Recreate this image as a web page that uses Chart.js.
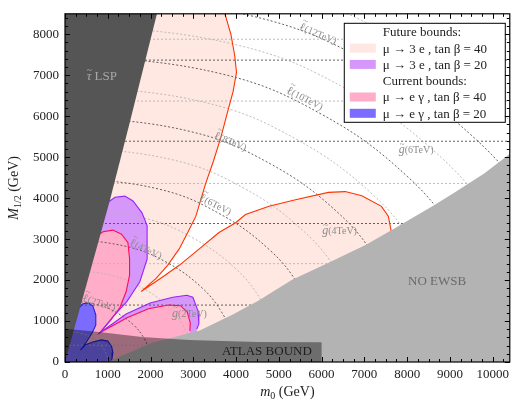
<!DOCTYPE html>
<html>
<head>
<meta charset="utf-8">
<script src="https://cdn.jsdelivr.net/npm/chart.js@4.4.1/dist/chart.umd.min.js"></script>
<style>
  html, body { margin: 0; padding: 0; background: #fff; }
  #wrap { width: 514px; height: 401px; }
</style>
</head>
<body>
<div id="wrap"><canvas id="mssm" width="514" height="401"></canvas></div>
<script>
// axis ranges (GeV) and tick labels
var m0Max = 10400;
var m12Max = 8500;
var m0Ticks = [0, 1000, 2000, 3000, 4000, 5000, 6000, 7000, 8000, 9000, 10000];
var m12Ticks = [0, 1000, 2000, 3000, 4000, 5000, 6000, 7000, 8000];

// stau LSP region
var lspM0  = [0, 1050, 1520, 2150, 0];
var lspM12 = [0, 3950, 5870, 8500, 8500];

// no EWSB region
var ewsbM0  = [1000, 2000, 3150, 3900, 4500, 5300, 6200, 7050, 7650, 8600, 9100, 9800, 10400, 10400];
var ewsbM12 = [0, 460, 770, 1150, 1480, 2000, 2440, 2870, 3230, 3810, 4130, 4600, 5080, 0];

// ATLAS bound
var atlasM0  = [0, 0, 800, 1800, 2900, 4500, 6000, 6000];
var atlasM12 = [0, 810, 730, 610, 540, 490, 480, 0];

// future mu -> 3e, tan beta = 40 (upper branch down to the tip, then lower branch)
var fut40M0  = [3740, 3880, 3970, 4010, 3930, 3800, 3650, 3470, 3290, 3060, 2870, 2670, 2400, 2130, 1780,
                2290, 2670, 3140, 3600, 3990, 4220, 4770, 5390, 6160, 6550, 6940, 7400, 7560, 7620, 7640];
var fut40M12 = [8500, 8000, 7470, 7070, 6600, 6100, 5500, 4900, 4360, 3560, 3160, 2760, 2360, 2040, 1720,
                2080, 2360, 2760, 3160, 3400, 3600, 3800, 3960, 4140, 4160, 4060, 3800, 3560, 3240, 3000];

// future mu -> 3e, tan beta = 20
var fut20M0  = [980, 1170, 1400, 1590, 1800, 1920, 1920, 1750, 1450, 1120, 820, 1120, 1430, 1990, 2520, 2850, 2990, 3110, 3130, 3080];
var fut20M12 = [3880, 4020, 4050, 3930, 3640, 3330, 2510, 1960, 1480, 1100, 720, 940, 1170, 1440, 1580, 1630, 1580, 1250, 930, 800];

// current mu -> e gamma, tan beta = 40
var cur40M0  = [750, 890, 1120, 1320, 1470, 1510, 1510, 1430, 1280, 1050, 820, 1100, 1450, 1950, 2420, 2700, 2860, 2930, 2920];
var cur40M12 = [3090, 3180, 3220, 3120, 2920, 2520, 2120, 1720, 1320, 1000, 720, 880, 1080, 1300, 1390, 1375, 1220, 950, 760];

// current mu -> e gamma, tan beta = 20
var cur20M0  = [300, 420, 550, 650, 720, 720, 630, 520, 400, 360, 480, 650, 850, 1000, 1090, 1120, 1100, 1070];
var cur20M12 = [1300, 1420, 1440, 1370, 1150, 900, 700, 520, 340, 290, 420, 490, 540, 510, 380, 230, 80, 0];

// slepton mass contours (TeV) and points along them
var slepTeV = [1, 2, 3, 4, 5, 6, 7, 8, 9, 10, 11, 12, 13];
var slepM0 = [
  [0, 368, 600, 800, 917, 980, 1000],
  [0, 735, 1200, 1600, 1833, 1960, 2000],
  [0, 1103, 1800, 2400, 2750, 2939, 3000],
  [0, 1470, 2400, 3200, 3666, 3919, 4000],
  [0, 1838, 3000, 4000, 4583, 4899, 5000],
  [0, 2206, 3600, 4800, 5499, 5879, 6000],
  [0, 2573, 4200, 5600, 6416, 6859, 7000],
  [0, 2941, 4800, 6400, 7332, 7838, 8000],
  [0, 3308, 5400, 7200, 8249, 8818, 9000],
  [0, 3676, 6000, 8000, 9165, 9798, 10000],
  [0, 4044, 6600, 8800, 10082, 10778, 11000],
  [0, 4411, 7200, 9600, 10998, 11758, 12000],
  [0, 4779, 7800, 10400, 11915, 12737, 13000]
];
var slepM12 = [
  [756, 703, 605, 454, 302, 151, 0],
  [1512, 1406, 1209, 907, 605, 302, 0],
  [2268, 2109, 1814, 1361, 907, 454, 0],
  [3024, 2812, 2419, 1814, 1210, 605, 0],
  [3780, 3515, 3024, 2268, 1512, 756, 0],
  [4535, 4218, 3628, 2721, 1814, 907, 0],
  [5291, 4921, 4233, 3175, 2117, 1058, 0],
  [6047, 5624, 4838, 3628, 2419, 1210, 0],
  [6803, 6327, 5442, 4082, 2722, 1361, 0],
  [7559, 7030, 6047, 4535, 3024, 1512, 0],
  [8315, 7733, 6652, 4989, 3326, 1663, 0],
  [9071, 8436, 7256, 5442, 3629, 1814, 0],
  [9827, 9139, 7861, 5896, 3931, 1966, 0]
];

// gluino mass contours (TeV) -> M1/2 level
var gluTeV = [1, 2, 3, 4, 5, 6, 7, 8, 9];
var gluM12 = [410, 1390, 2400, 3380, 4360, 5390, 6370, 7370, 7880];

var serif = '"Liberation Serif", "DejaVu Serif", serif';

function pts(xs, ys, extra) {
  var out = xs.map(function (x, i) { return {x: x, y: ys[i]}; });
  (extra || []).forEach(function (p) { out.push({x: p[0], y: p[1]}); });
  return out;
}

function area(label, data, color, order) {
  return {
    label: label, data: data, showLine: true, fill: 'shape',
    backgroundColor: color, borderColor: 'rgba(0,0,0,0)', borderWidth: 0,
    pointRadius: 0, tension: 0, order: order
  };
}

function edge(data, color, width, order, dash, tension) {
  return {
    label: '', data: data, showLine: true, fill: false,
    borderColor: color, borderWidth: width, borderDash: dash || [],
    pointRadius: 0, tension: tension || 0, order: order
  };
}

var datasets = [];
datasets.push(area('atlas', pts(atlasM0, atlasM12), 'rgba(0,0,0,0.39)', 1));
datasets.push(area('ewsb', pts(ewsbM0, ewsbM12), '#b3b3b3', 2));
datasets.push(area('lsp', pts(lspM0, lspM12), '#555555', 3));

datasets.push(edge(pts(fut40M0, fut40M12), '#ff3300', 1.1, 4));
datasets.push(edge(pts(fut20M0, fut20M12), '#9a22ff', 1.1, 4));
datasets.push(edge(pts(cur40M0, cur40M12), '#ff0a5a', 1.1, 4));
datasets.push(edge(pts(cur20M0, cur20M12), '#2222dd', 1.1, 4));

slepTeV.forEach(function (t, i) {
  datasets.push(edge(pts(slepM0[i], slepM12[i]), t % 2 === 0 ? '#505050' : '#b5b5b5', 0.9, 5, [2, 2], 0.4));
});
gluTeV.forEach(function (t, i) {
  datasets.push(edge([{x: 0, y: gluM12[i]}, {x: m0Max, y: gluM12[i]}], t % 2 === 0 ? '#505050' : '#b5b5b5', 0.9, 5, [2, 2]));
});

datasets.push(area('\u03bc \u2192 e \u03b3 , tan \u03b2 = 20', pts(cur20M0, cur20M12, [[0, 0]]), '#7b6cff', 6));
datasets.push(area('\u03bc \u2192 e \u03b3 , tan \u03b2 = 40', pts(cur40M0, cur40M12, [[2920, 0], [0, 0]]), '#ffadc9', 7));
datasets.push(area('\u03bc \u2192 3 e , tan \u03b2 = 20', pts(fut20M0, fut20M12, [[3080, 0], [0, 0]]), '#d697fa', 8));
datasets.push(area('\u03bc \u2192 3 e , tan \u03b2 = 40', pts(fut40M0, fut40M12, [[7640, 0], [0, 0], [0, 8500]]), '#ffe7e2', 9));

var legendRows = [
  'Future bounds:',
  '\u03bc \u2192 3 e , tan \u03b2 = 40',
  '\u03bc \u2192 3 e , tan \u03b2 = 20',
  'Current bounds:',
  '\u03bc \u2192 e \u03b3 , tan \u03b2 = 40',
  '\u03bc \u2192 e \u03b3 , tan \u03b2 = 20'
];

// annotation text on the plot
var slepLabelTeV = [2, 4, 6, 8, 10, 12];
var slepLabelAt = [[790, 1430, 18], [1880, 2740, 25], [3510, 3830, 27], [3860, 5370, 23], [5600, 6420, 27], [5910, 8000, 23]];
var gluLabelTeV = [2, 4, 6];
var gluLabelAt = [[2910, 1170], [6420, 3190], [8210, 5170]];

// base glyph with a tilde on top, then the rest of the text, centred on (0, 0)
function tilded(ctx, base, baseFont, rest, restFont, tildeFont, lift) {
  ctx.font = baseFont;
  var wb = ctx.measureText(base).width;
  ctx.font = restFont;
  var wr = ctx.measureText(rest).width;
  var sx = -(wb + wr) / 2;
  ctx.textAlign = 'left';
  ctx.font = baseFont;
  ctx.fillText(base, sx, 0);
  ctx.font = restFont;
  ctx.fillText(rest, sx + wb, 0);
  ctx.font = tildeFont;
  ctx.textAlign = 'center';
  ctx.fillText('~', sx + wb / 2 + 0.5, -lift);
}

var decor = {
  id: 'decor',
  afterDatasetsDraw: function (chart) {
    var ctx = chart.ctx, x = chart.scales.x, y = chart.scales.y;
    ctx.save();
    ctx.textBaseline = 'middle';
    ctx.fillStyle = '#8c8c8c';
    slepLabelTeV.forEach(function (t, i) {
      var p = slepLabelAt[i];
      ctx.save();
      ctx.translate(x.getPixelForValue(p[0]), y.getPixelForValue(p[1]));
      ctx.rotate(p[2] * Math.PI / 180);
      tilded(ctx, '\u2113', '12px ' + serif, '(' + t + 'TeV)', '10px ' + serif, '9px ' + serif, 7);
      ctx.restore();
    });
    gluLabelTeV.forEach(function (t, i) {
      var p = gluLabelAt[i];
      ctx.save();
      ctx.translate(x.getPixelForValue(p[0]), y.getPixelForValue(p[1]));
      tilded(ctx, 'g', 'italic 12px ' + serif, '(' + t + 'TeV)', '10px ' + serif, '9px ' + serif, 6);
      ctx.restore();
    });

    ctx.save();
    ctx.fillStyle = '#a8a8a8';
    ctx.translate(x.getPixelForValue(860), y.getPixelForValue(6970));
    tilded(ctx, '\u03c4', 'italic 13px ' + serif, ' LSP', '13px ' + serif, '10px ' + serif, 6);
    ctx.restore();

    ctx.textAlign = 'center';
    ctx.font = '13px ' + serif;
    ctx.fillStyle = '#6a6a6a';
    ctx.fillText('NO EWSB', x.getPixelForValue(8700), y.getPixelForValue(1960));
    ctx.fillStyle = '#1e1e1e';
    ctx.fillText('ATLAS BOUND', x.getPixelForValue(4720), y.getPixelForValue(260));
    ctx.restore();
  },
  afterDraw: function (chart) {
    var ctx = chart.ctx, a = chart.chartArea, x = chart.scales.x, y = chart.scales.y;
    ctx.save();

    // inward ticks on all four sides
    ctx.strokeStyle = '#000';
    ctx.lineWidth = 1;
    ctx.beginPath();
    var v, p, len;
    for (v = 0; v <= m0Max; v += 250) {
      p = Math.round(x.getPixelForValue(v)) + 0.5;
      len = v % 1000 === 0 ? 5 : 3;
      ctx.moveTo(p, a.bottom); ctx.lineTo(p, a.bottom - len);
      ctx.moveTo(p, a.top); ctx.lineTo(p, a.top + len);
    }
    for (v = 0; v <= m12Max; v += 200) {
      p = Math.round(y.getPixelForValue(v)) + 0.5;
      len = v % 1000 === 0 ? 5 : 3;
      ctx.moveTo(a.left, p); ctx.lineTo(a.left + len, p);
      ctx.moveTo(a.right, p); ctx.lineTo(a.right - len, p);
    }
    ctx.stroke();
    ctx.lineWidth = 1.2;
    ctx.strokeRect(a.left, a.top, a.right - a.left, a.bottom - a.top);

    // legend box
    var bx = a.right - 166, by = a.top + 9, bw = 161, bh = 99;
    ctx.fillStyle = '#fff';
    ctx.fillRect(bx, by, bw, bh);
    ctx.lineWidth = 1;
    ctx.strokeStyle = '#000';
    ctx.strokeRect(bx + 0.5, by + 0.5, bw, bh);
    ctx.font = '13px ' + serif;
    ctx.textAlign = 'left';
    ctx.textBaseline = 'middle';
    legendRows.forEach(function (row, i) {
      var ry = by + 9 + i * 16.3;
      var ds = chart.data.datasets.find(function (d) { return d.label === row; });
      if (ds) {
        ctx.fillStyle = ds.backgroundColor;
        ctx.fillRect(bx + 6, ry - 4.5, 26, 9);
      }
      ctx.fillStyle = '#222';
      ctx.fillText(row, bx + 39, ry + 1);
    });

    // axis titles
    ctx.fillStyle = '#222';
    ctx.textBaseline = 'alphabetic';
    var cx = (a.left + a.right) / 2;
    ctx.font = 'italic 14px ' + serif;
    var w1 = ctx.measureText('m').width;
    ctx.font = '10px ' + serif;
    var w2 = ctx.measureText('0').width;
    ctx.font = '14px ' + serif;
    var w3 = ctx.measureText(' (GeV)').width;
    var sx = cx - (w1 + w2 + w3) / 2, ty = 396;
    ctx.font = 'italic 14px ' + serif; ctx.fillText('m', sx, ty);
    ctx.font = '10px ' + serif; ctx.fillText('0', sx + w1, ty + 3);
    ctx.font = '14px ' + serif; ctx.fillText(' (GeV)', sx + w1 + w2, ty);

    ctx.save();
    ctx.translate(18, (a.top + a.bottom) / 2);
    ctx.rotate(-Math.PI / 2);
    ctx.font = 'italic 14px ' + serif;
    w1 = ctx.measureText('M').width;
    ctx.font = '10px ' + serif;
    w2 = ctx.measureText('1/2').width;
    ctx.font = '14px ' + serif;
    w3 = ctx.measureText(' (GeV)').width;
    sx = -(w1 + w2 + w3) / 2;
    ctx.font = 'italic 14px ' + serif; ctx.fillText('M', sx, 0);
    ctx.font = '10px ' + serif; ctx.fillText('1/2', sx + w1, 3);
    ctx.font = '14px ' + serif; ctx.fillText(' (GeV)', sx + w1 + w2, 0);
    ctx.restore();

    ctx.restore();
  }
};

function tickLabel(value) {
  return String(value);
}

var ctx1 = document.getElementById('mssm').getContext('2d');
var mssmChart = new Chart(ctx1, {
  type: 'scatter',
  data: { datasets: datasets },
  options: {
    responsive: false,
    animation: false,
    events: [],
    layout: { padding: { left: 0, right: 2, top: 7, bottom: 0 } },
    plugins: { legend: { display: false }, tooltip: { enabled: false } },
    elements: { point: { radius: 0, hoverRadius: 0 } },
    scales: {
      x: {
        type: 'linear', min: 0, max: m0Max,
        afterFit: function (s) { s.height = 39; },
        afterBuildTicks: function (s) { s.ticks = m0Ticks.map(function (v) { return {value: v}; }); },
        ticks: { autoSkip: false, maxRotation: 0, padding: 5, color: '#222', font: { family: serif, size: 13 }, callback: tickLabel },
        grid: { display: false, drawTicks: false },
        border: { display: false }
      },
      y: {
        type: 'linear', min: 0, max: m12Max,
        afterFit: function (s) { s.width = 65; },
        afterBuildTicks: function (s) { s.ticks = m12Ticks.map(function (v) { return {value: v}; }); },
        ticks: { autoSkip: false, padding: 6, color: '#222', font: { family: serif, size: 13 }, callback: tickLabel },
        grid: { display: false, drawTicks: false },
        border: { display: false }
      }
    }
  },
  plugins: [decor]
});
</script>
</body>
</html>
